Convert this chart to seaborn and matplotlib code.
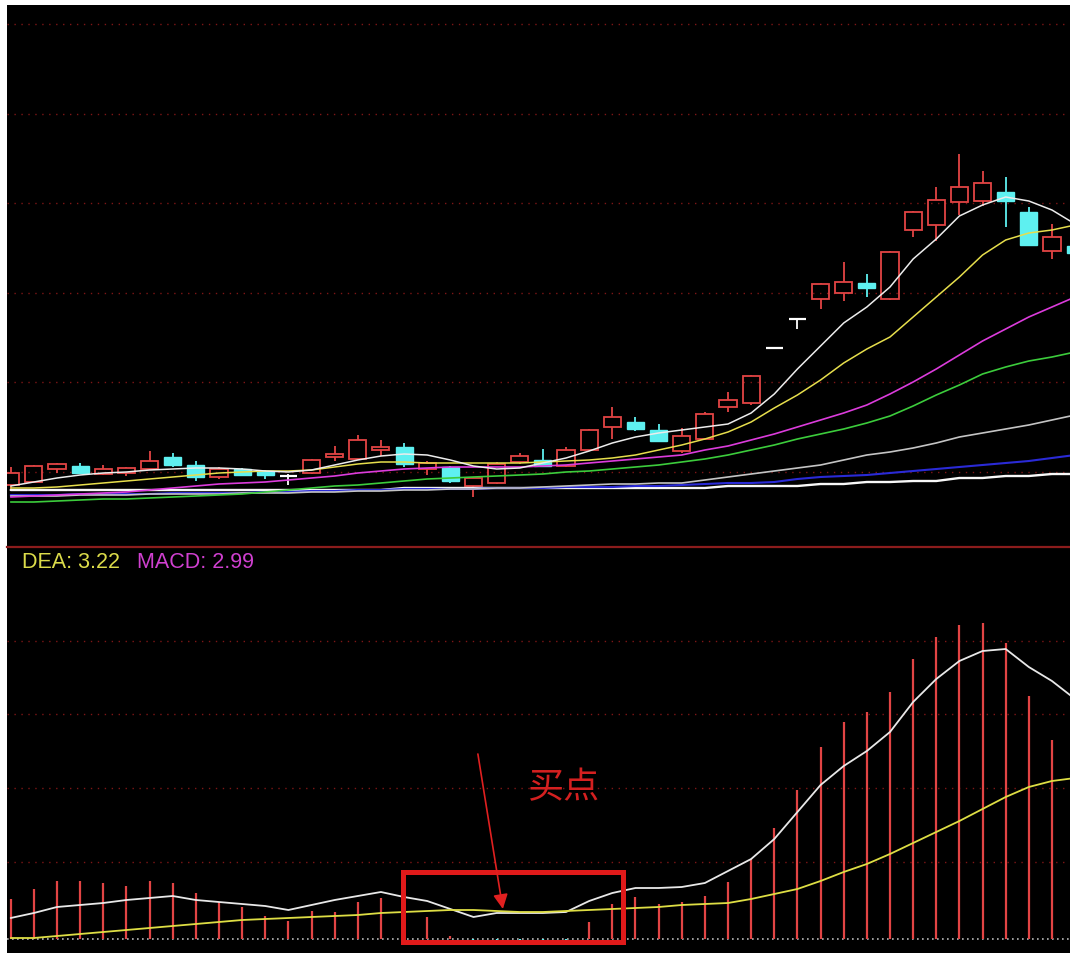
import numpy as np
import pandas as pd
import matplotlib
matplotlib.use("Agg")
import matplotlib.pyplot as plt
import seaborn as sns
from matplotlib.patches import Rectangle

# ---- candle data (price units) ----
opens = [5.70, 5.85, 6.50, 6.65, 6.25, 6.30, 6.50, 7.10, 6.70, 6.10,
         6.50, 6.40, 6.15, 6.30, 7.10, 7.00, 7.45, 7.60, 6.50, 6.60,
         5.65, 5.80, 6.85, 6.95, 6.65, 7.45, 8.60, 8.85, 8.45, 7.40,
         8.00, 9.60, 9.80, 12.55, 14.00, 15.00, 15.30, 15.80, 15.00, 18.45,
         18.70, 19.85, 19.90, 20.35, 19.35, 17.40, 17.65]
closes = [6.30, 6.65, 6.75, 6.30, 6.50, 6.55, 6.90, 6.70, 6.10, 6.50,
          6.20, 6.20, 6.15, 6.95, 7.25, 7.95, 7.60, 6.75, 6.80, 5.90,
          6.05, 6.75, 7.15, 6.65, 7.45, 8.45, 9.10, 8.50, 7.90, 8.15,
          9.25, 9.95, 11.15, 12.55, 14.00, 15.75, 15.85, 15.55, 17.35, 19.35,
          19.95, 20.60, 20.80, 19.90, 17.70, 18.10, 17.30]
highs = [6.60, 6.70, 6.80, 6.80, 6.70, 6.60, 7.40, 7.30, 6.90, 6.60,
         6.55, 6.45, 6.25, 7.00, 7.65, 8.20, 7.95, 7.80, 6.90, 6.65,
         6.10, 6.85, 7.30, 7.50, 7.60, 8.50, 9.60, 9.10, 8.75, 8.55,
         9.35, 10.35, 11.20, 12.55, 14.00, 15.80, 16.85, 16.25, 17.40, 19.40,
         20.60, 22.25, 21.40, 21.10, 19.60, 18.75, 17.75]
lows = [5.50, 5.80, 6.30, 6.25, 6.20, 6.15, 6.45, 6.60, 5.90, 6.00,
        6.15, 6.00, 5.70, 6.25, 6.90, 6.95, 7.15, 6.60, 6.20, 5.80,
        5.10, 5.75, 6.75, 6.65, 6.60, 7.40, 8.00, 8.40, 7.85, 7.30,
        7.95, 9.35, 9.70, 12.55, 13.50, 14.50, 14.90, 15.10, 14.95, 18.10,
        17.90, 19.20, 19.65, 18.60, 17.70, 17.00, 17.25]

# ---- moving averages ----
ma5 = [5.65, 5.85, 6.05, 6.20, 6.30, 6.35, 6.45, 6.50, 6.55, 6.55,
       6.50, 6.40, 6.35, 6.45, 6.70, 6.95, 7.15, 7.25, 7.20, 6.95,
       6.65, 6.50, 6.55, 6.80, 7.05, 7.40, 7.80, 8.10, 8.30, 8.45,
       8.60, 8.75, 9.30, 10.25, 11.50, 12.65, 13.80, 14.60, 15.60, 17.00,
       18.00, 19.15, 19.70, 20.10, 19.90, 19.45, 18.75]
ma10 = [5.55, 5.55, 5.60, 5.70, 5.80, 5.90, 6.00, 6.10, 6.20, 6.30,
        6.35, 6.40, 6.40, 6.45, 6.60, 6.75, 6.85, 6.85, 6.80, 6.80,
        6.80, 6.80, 6.80, 6.85, 6.90, 6.95, 7.05, 7.20, 7.45, 7.70,
        8.00, 8.35, 8.85, 9.55, 10.20, 10.95, 11.80, 12.50, 13.10, 14.10,
        15.10, 16.10, 17.20, 17.95, 18.30, 18.45, 18.70]
ma20 = [5.10, 5.15, 5.20, 5.25, 5.30, 5.35, 5.45, 5.55, 5.65, 5.75,
        5.80, 5.85, 5.95, 6.05, 6.15, 6.30, 6.40, 6.50, 6.55, 6.60,
        6.60, 6.60, 6.60, 6.65, 6.70, 6.80, 6.90, 7.00, 7.10, 7.20,
        7.45, 7.65, 7.95, 8.25, 8.60, 8.95, 9.30, 9.70, 10.25, 10.85,
        11.50, 12.20, 12.90, 13.50, 14.10, 14.60, 15.10]
ma30 = [4.85, 4.85, 4.90, 4.95, 5.00, 5.00, 5.05, 5.10, 5.15, 5.20,
        5.25, 5.35, 5.45, 5.55, 5.65, 5.70, 5.80, 5.90, 6.00, 6.05,
        6.10, 6.15, 6.20, 6.25, 6.35, 6.40, 6.50, 6.60, 6.70, 6.85,
        7.00, 7.20, 7.45, 7.70, 8.00, 8.25, 8.50, 8.80, 9.15, 9.65,
        10.20, 10.70, 11.25, 11.60, 11.90, 12.10, 12.35]
ma60 = [5.15, 5.15, 5.15, 5.20, 5.20, 5.20, 5.25, 5.25, 5.25, 5.25,
        5.30, 5.30, 5.30, 5.35, 5.35, 5.40, 5.40, 5.45, 5.45, 5.50,
        5.50, 5.55, 5.55, 5.60, 5.65, 5.70, 5.75, 5.75, 5.80, 5.80,
        5.95, 6.10, 6.25, 6.40, 6.55, 6.70, 6.95, 7.20, 7.35, 7.55,
        7.80, 8.10, 8.30, 8.50, 8.70, 8.95, 9.20]
ma120 = [5.20, 5.20, 5.20, 5.25, 5.25, 5.25, 5.25, 5.30, 5.30, 5.30,
         5.30, 5.35, 5.35, 5.40, 5.40, 5.45, 5.45, 5.50, 5.50, 5.50,
         5.50, 5.55, 5.55, 5.55, 5.60, 5.60, 5.60, 5.65, 5.65, 5.70,
         5.75, 5.80, 5.80, 5.85, 6.00, 6.10, 6.15, 6.20, 6.30, 6.40,
         6.50, 6.60, 6.70, 6.80, 6.90, 7.05, 7.20]
ma250 = [5.45, 5.45, 5.45, 5.45, 5.45, 5.45, 5.45, 5.45, 5.45, 5.45,
         5.45, 5.45, 5.45, 5.45, 5.45, 5.45, 5.45, 5.55, 5.55, 5.55,
         5.55, 5.55, 5.55, 5.55, 5.55, 5.55, 5.55, 5.55, 5.55, 5.55,
         5.55, 5.65, 5.65, 5.65, 5.65, 5.75, 5.75, 5.85, 5.85, 5.90,
         5.90, 6.05, 6.05, 6.15, 6.15, 6.25, 6.25]

# ---- MACD ----
dif = [0.42, 0.52, 0.64, 0.68, 0.72, 0.78, 0.82, 0.86, 0.78, 0.74,
       0.70, 0.66, 0.58, 0.68, 0.78, 0.86, 0.94, 0.84, 0.76, 0.60,
       0.44, 0.52, 0.52, 0.52, 0.54, 0.76, 0.92, 1.02, 1.02, 1.04,
       1.12, 1.36, 1.60, 2.00, 2.54, 3.08, 3.46, 3.76, 4.14, 4.74,
       5.20, 5.56, 5.76, 5.80, 5.44, 5.16, 4.80]
dea = [0.02, 0.02, 0.06, 0.10, 0.14, 0.18, 0.22, 0.26, 0.30, 0.34,
       0.38, 0.40, 0.42, 0.44, 0.46, 0.48, 0.52, 0.54, 0.56, 0.58,
       0.58, 0.56, 0.54, 0.54, 0.56, 0.58, 0.60, 0.62, 0.64, 0.68,
       0.70, 0.72, 0.80, 0.90, 1.00, 1.16, 1.34, 1.50, 1.70, 1.92,
       2.14, 2.36, 2.60, 2.84, 3.04, 3.16, 3.22]
macd_hist = [0.80, 1.00, 1.16, 1.16, 1.12, 1.06, 1.16, 1.12, 0.92, 0.74,
             0.64, 0.46, 0.36, 0.56, 0.54, 0.74, 0.82, 0.60, 0.44, 0.06,
             -0.05, -0.04, -0.02, -0.02, -0.02, 0.34, 0.70, 0.84, 0.70, 0.74,
             0.86, 1.14, 1.60, 2.22, 2.98, 3.84, 4.34, 4.54, 4.94, 5.60,
             6.04, 6.28, 6.32, 5.92, 4.86, 3.98, 2.99]

price_grid = [6.35, 10.83, 15.31, 19.79, 24.27, 28.75]
macd_grid = [1.54, 3.02, 4.50, 5.96]
dea_label = "DEA: 3.22"
macd_label = "MACD: 2.99"
buy_label = "买点"

# ---- style ----
sns.set_style("dark")
plt.rcParams['font.family'] = ['Liberation Sans', 'Noto Sans CJK SC', 'DejaVu Sans']

RED = "#e24444"
CYAN = "#5ef0f0"
GRID = "#7e1616"
ma_names = ["MA250", "MA120", "MA60", "MA30", "MA20", "MA10", "MA5"]
ma_colors = {"MA5": "#ececec", "MA10": "#e6de4c", "MA20": "#dc3cdc", "MA30": "#3ccc3c",
             "MA60": "#c4c4c4", "MA120": "#2a2ad6", "MA250": "#f8f8f8"}
ma_widths = {"MA5": 1.1, "MA10": 1.1, "MA20": 1.2, "MA30": 1.2,
             "MA60": 1.2, "MA120": 1.5, "MA250": 1.7}

W, H = 1070, 954
fig = plt.figure(figsize=(W / 100, H / 100), dpi=100, facecolor="white")
ax_top = fig.add_axes([7 / W, 406 / H, 1063 / W, 542 / H])
ax_bot = fig.add_axes([7 / W, 0, 1063 / W, 406 / H])

idx = np.arange(len(opens))
o, c, h, l = (np.array(v) for v in (opens, closes, highs, lows))

for ax in (ax_top, ax_bot):
    ax.set_facecolor("black")
    for s in ax.spines.values():
        s.set_visible(False)
    ax.set_xticks([])
    ax.set_yticks([])
    ax.grid(False)

# dotted grid
for g in price_grid:
    ax_top.axhline(g, color=GRID, lw=1.0, ls=(0, (1, 4)), zorder=1)
for g in macd_grid:
    ax_bot.axhline(g, color=GRID, lw=1.0, ls=(0, (1, 4)), zorder=1)
ax_bot.axhline(0, color="#b8b8b8", lw=1.2, ls=(0, (1, 2)), zorder=1)

# candles
body_w = 0.74
up = c > o
dn = c < o
flat = c == o
top_b = np.maximum(o, c)
bot_b = np.minimum(o, c)
ax_top.vlines(idx[up], top_b[up], h[up], color=RED, lw=1.3, zorder=2)
ax_top.vlines(idx[up], l[up], bot_b[up], color=RED, lw=1.3, zorder=2)
ax_top.bar(idx[up], (c - o)[up], bottom=o[up], width=body_w, facecolor="none",
           edgecolor=RED, lw=1.3, zorder=2)
ax_top.vlines(idx[dn], l[dn], h[dn], color=CYAN, lw=1.3, zorder=2)
ax_top.bar(idx[dn], (o - c)[dn], bottom=c[dn], width=body_w, color=CYAN,
           edgecolor=CYAN, lw=1.0, zorder=2)
ax_top.vlines(idx[flat], l[flat], h[flat], color="white", lw=1.3, zorder=2)
ax_top.hlines(c[flat], idx[flat] - body_w / 2, idx[flat] + body_w / 2,
              color="white", lw=1.6, zorder=2)

# moving averages
ma_df = pd.DataFrame({"day": idx, "MA5": ma5, "MA10": ma10, "MA20": ma20, "MA30": ma30,
                      "MA60": ma60, "MA120": ma120, "MA250": ma250})
ma_long = ma_df.melt(id_vars="day", var_name="line", value_name="price")
sns.lineplot(data=ma_long, x="day", y="price", hue="line", hue_order=ma_names,
             palette=ma_colors, size="line", sizes=ma_widths, size_order=ma_names,
             estimator=None, sort=False, legend=False, ax=ax_top, zorder=3)

# MACD histogram
bar_cols = [RED if v >= 0 else CYAN for v in macd_hist]
ax_bot.vlines(idx, 0, macd_hist, colors=bar_cols, lw=1.6, zorder=2)

macd_df = pd.DataFrame({"day": idx, "DIF": dif, "DEA": dea}).melt(
    id_vars="day", var_name="line", value_name="value")
sns.lineplot(data=macd_df, x="day", y="value", hue="line", hue_order=["DIF", "DEA"],
             palette={"DIF": "#e8e8e8", "DEA": "#dede44"}, estimator=None, sort=False,
             legend=False, lw=1.3, ax=ax_bot, zorder=3)

for ax in (ax_top, ax_bot):
    ax.set_xlim(-0.16, 45.78)
    ax.set_xlabel("")
    ax.set_ylabel("")
ax_top.set_ylim(2.6, 29.7)
ax_bot.set_ylim(-0.28, 7.84)

# separator line between panels
ax_bot.spines["top"].set_visible(True)
ax_bot.spines["top"].set_color("#8c1c1c")
ax_bot.spines["top"].set_linewidth(1.6)

# labels
ax_bot.text(0.014, 0.9655, dea_label, transform=ax_bot.transAxes, color="#dcdc4a",
            fontsize=15.5, va="center", ha="left")
ax_bot.text(0.122, 0.9655, macd_label, transform=ax_bot.transAxes, color="#d040d0",
            fontsize=15.5, va="center", ha="left")

# buy-point annotation
ax_bot.add_patch(Rectangle((16.95, -0.06), 9.5, 1.40, facecolor="none",
                           edgecolor="#e01a1a", lw=3.6, zorder=5))
ax_bot.annotate("", xy=(21.27, 0.60), xytext=(20.19, 3.70),
                arrowprops=dict(arrowstyle="-|>", color="#e02020", lw=1.2,
                                mutation_scale=22, shrinkA=0, shrinkB=0), zorder=6)
ax_bot.text(23.86, 3.04, buy_label, color="#d42020", fontsize=26,
            family=["Noto Sans CJK SC", "DejaVu Sans"], fontweight="light",
            ha="center", va="center", zorder=6)

fig.savefig("out.png", dpi=100, facecolor="white")
